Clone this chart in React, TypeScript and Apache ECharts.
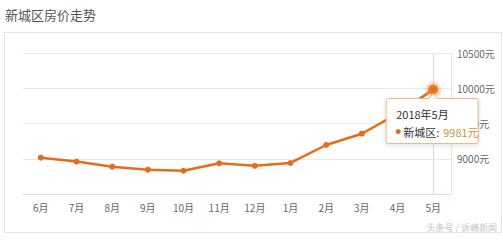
import React, { useEffect, useRef } from "react";
import * as echarts from "echarts";

const title = "新城区房价走势";
const months = ["6月", "7月", "8月", "9月", "10月", "11月", "12月", "1月", "2月", "3月", "4月", "5月"];
const prices = [9015, 8960, 8888, 8845, 8830, 8935, 8900, 8940, 9195, 9355, 9640, 9981];
const seriesName = "新城区";
const tipTitle = "2018年5月";
const yMin = 8500;
const yMax = 10500;
const yStep = 500;
const watermark = "头条号 / 诉嶋新闻";

const ORANGE = "#E46C1B";

export default function App() {
  const ref = useRef<HTMLDivElement>(null);
  useEffect(() => {
    document.body.style.margin = "0";
    const chart = echarts.init(ref.current!, undefined, { renderer: "svg" });
    const last = prices.length - 1;
    chart.setOption({
      animation: false,
      backgroundColor: "#ffffff",
      title: {
        text: title,
        left: 0,
        top: 3,
        textStyle: { fontSize: 13, fontWeight: "normal", color: "#555", fontFamily: "Noto Sans CJK SC" },
      },
      grid: { left: 23, right: 52, top: 53, bottom: 46 },
      xAxis: {
        type: "category",
        data: months,
        boundaryGap: true,
        axisLine: { lineStyle: { color: "#dcdcdc" } },
        axisTick: { alignWithLabel: true, length: 3, lineStyle: { color: "#dcdcdc" } },
        axisLabel: { color: "#666", fontSize: 10, margin: 8, fontFamily: "Noto Sans CJK SC" },
      },
      yAxis: {
        type: "value",
        position: "right",
        min: yMin,
        max: yMax,
        interval: yStep,
        axisLine: { show: true, lineStyle: { color: "#e6e6e6" } },
        axisTick: { show: false },
        splitLine: { lineStyle: { color: "#e8e8e8" } },
        axisLabel: {
          color: "#666",
          fontSize: 10,
          margin: 6,
          fontFamily: "Noto Sans CJK SC",
          formatter: (v: number) => (v === yMin ? "" : v + "元"),
        },
      },
      series: [
        {
          type: "line",
          name: seriesName,
          data: prices.map((v, i) =>
            i === last
              ? {
                  value: v,
                  symbolSize: 10,
                  itemStyle: { color: ORANGE, borderColor: "rgba(240,150,80,0.35)", borderWidth: 6 },
                }
              : v
          ),
          symbol: "circle",
          symbolSize: 6,
          itemStyle: { color: ORANGE },
          lineStyle: { color: ORANGE, width: 2.5 },
          z: 3,
          markLine: {
            silent: true,
            symbol: "none",
            label: { show: false },
            lineStyle: { color: "#d8d8d8", type: "solid", width: 1 },
            data: [{ xAxis: months[last] }],
            z: 1,
          },
        },
      ],
    });

    const [px, py] = chart.convertToPixel({ seriesIndex: 0 }, [last, prices[last]]) as number[];
    const bx = px - 47;
    const by = py + 9;
    const bw = 92;
    const bh = 45;
    chart.setOption({
      graphic: [
        {
          type: "rect",
          left: 2,
          top: 30,
          shape: { width: 497, height: 200 },
          style: { fill: "none", stroke: "#e4e4e4", lineWidth: 1 },
          silent: true,
          z: -1,
        },
        {
          type: "text",
          right: 6,
          top: 223,
          style: { text: watermark, fill: "#c4c4c4", fontSize: 9, fontFamily: "Noto Sans CJK SC" },
          z: 10,
        },
        {
          type: "group",
          z: 20,
          children: [
            {
              type: "rect",
              shape: { x: bx, y: by, width: bw, height: bh, r: 2 },
              style: {
                fill: "#ffffff",
                stroke: "#e9b783",
                lineWidth: 1,
                shadowBlur: 4,
                shadowColor: "rgba(0,0,0,0.15)",
                shadowOffsetY: 1,
              },
              z: 20,
            },
            {
              type: "polygon",
              shape: { points: [[px - 5, by + 0.5], [px, by - 5], [px + 5, by + 0.5]] },
              style: { fill: "#ffffff", stroke: "#e9b783", lineWidth: 1 },
              z: 21,
            },
            {
              type: "rect",
              shape: { x: px - 4.5, y: by, width: 9, height: 1.5 },
              style: { fill: "#ffffff" },
              z: 22,
            },
            {
              type: "text",
              x: bx + 10,
              y: by + 15,
              style: { text: tipTitle, fill: "#333", fontSize: 11, verticalAlign: "middle", fontFamily: "Noto Sans CJK SC" },
              z: 23,
            },
            {
              type: "circle",
              shape: { cx: bx + 12, cy: by + 33, r: 2.5 },
              style: { fill: ORANGE },
              z: 23,
            },
            {
              type: "text",
              x: bx + 17,
              y: by + 33,
              style: { text: seriesName + ":", fill: "#333", fontSize: 11, verticalAlign: "middle", fontFamily: "Noto Sans CJK SC" },
              z: 23,
            },
            {
              type: "text",
              x: bx + 57,
              y: by + 33,
              style: { text: prices[last] + "元", fill: "#c9973a", fontSize: 11, verticalAlign: "middle", fontFamily: "Noto Sans CJK SC" },
              z: 23,
            },
          ],
        },
      ],
    });
    return () => chart.dispose();
  }, []);
  return <div ref={ref} style={{ width: 503, height: 240, position: "fixed", left: 0, top: 0 }} />;
}
